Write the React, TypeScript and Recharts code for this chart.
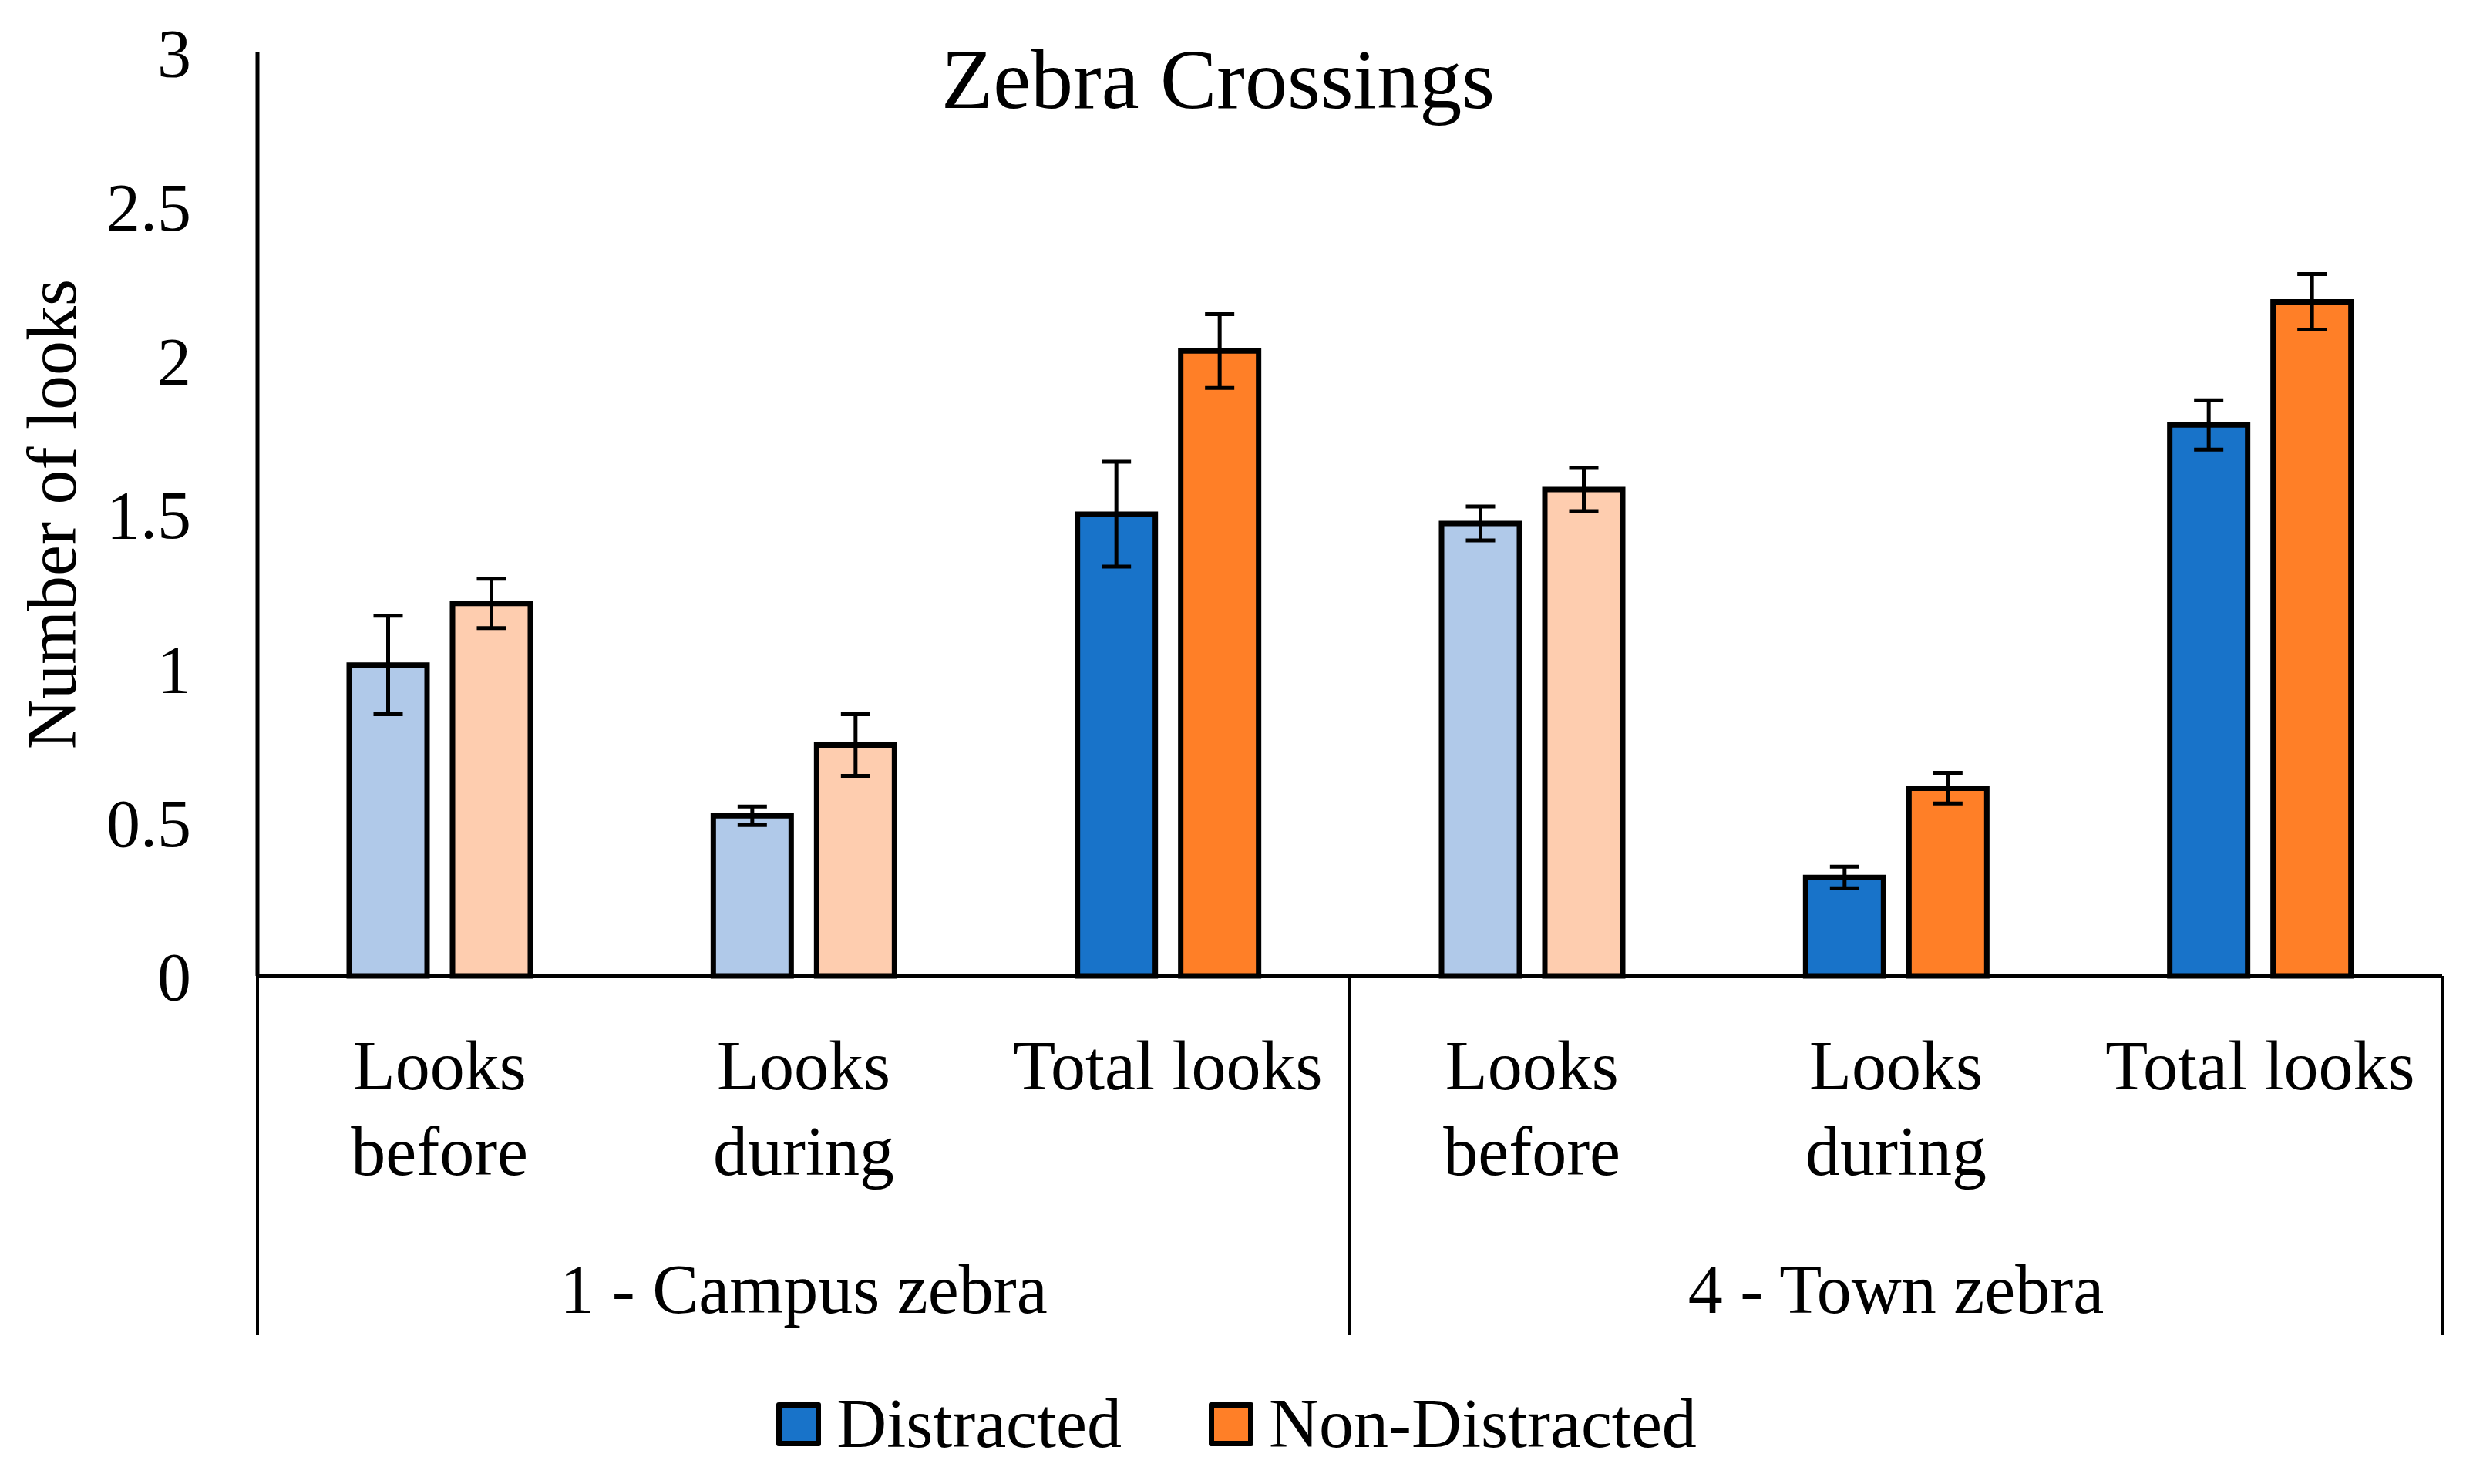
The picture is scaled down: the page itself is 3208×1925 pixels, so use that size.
import React from 'react';
import { BarChart, Bar, XAxis, YAxis, ErrorBar, Cell, Legend } from 'recharts';

const categories = ['Looks before', 'Looks during', 'Total looks', 'Looks before', 'Looks during', 'Total looks'];
const categoryLines = [['Looks', 'before'], ['Looks', 'during'], ['Total looks'], ['Looks', 'before'], ['Looks', 'during'], ['Total looks']];
const groups = ['1 - Campus zebra', '1 - Campus zebra', '1 - Campus zebra', '4 - Town zebra', '4 - Town zebra', '4 - Town zebra'];
const distracted = [1.01, 0.52, 1.5, 1.47, 0.32, 1.79];
const distractedErr = [0.16, 0.03, 0.17, 0.055, 0.035, 0.08];
const nonDistracted = [1.21, 0.75, 2.03, 1.58, 0.61, 2.19];
const nonDistractedErr = [0.08, 0.1, 0.12, 0.07, 0.05, 0.09];
const yTicks = [0, 0.5, 1, 1.5, 2, 2.5, 3];
const seriesNames = ['Distracted', 'Non-Distracted'];
const lightShade = [true, true, false, true, false, false];

const data = categories.map((c, i) => ({
  idx: i,
  category: c,
  group: groups[i],
  d: distracted[i],
  dErr: distractedErr[i],
  nd: nonDistracted[i],
  ndErr: nonDistractedErr[i],
}));

const FONT = '"Liberation Serif", "Times New Roman", serif';
const W = 3208;
const H = 1925;
const AXIS1_H = 330;
const AXIS2_H = 140;

const BLUE = '#1873C9';
const BLUE_LIGHT = '#B0C9E9';
const ORANGE = '#FF7F27';
const ORANGE_LIGHT = '#FECDAF';

const CategoryTick = (props: any) => {
  const { x, y, payload } = props;
  const lines = categoryLines[payload.value] || [String(payload.value)];
  return (
    <text x={x} y={y} textAnchor="middle" fontFamily={FONT} fontSize={90} fill="#000">
      {lines.map((l, i) => (
        <tspan key={i} x={x} dy={i === 0 ? 147 : 111}>
          {l}
        </tspan>
      ))}
    </text>
  );
};

const GroupTick = (props: any) => {
  const { x, y, payload } = props;
  const half = payload && typeof payload.offset === 'number' && payload.offset > 0 ? payload.offset : 708;
  return (
    <g>
      <line x1={x - half} x2={x - half} y1={y - AXIS1_H} y2={y + 136} stroke="#000" strokeWidth={4} />
      <line x1={x + half} x2={x + half} y1={y - AXIS1_H} y2={y + 136} stroke="#000" strokeWidth={4} />
      <text x={x} y={y + 107} textAnchor="middle" fontFamily={FONT} fontSize={90} fill="#000">
        {payload.value}
      </text>
    </g>
  );
};

const YLabel = (props: any) => {
  const vb = props.viewBox || { x: 0, y: 68, width: 334, height: 1198 };
  const cy = vb.y + vb.height / 2;
  const x = 98;
  return (
    <text
      x={x}
      y={cy}
      transform={`rotate(-90, ${x}, ${cy})`}
      textAnchor="middle"
      fontFamily={FONT}
      fontSize={90}
      fill="#000"
    >
      Number of looks
    </text>
  );
};

const LegendContent = () => (
  <div
    style={{
      width: W,
      height: 150,
      boxSizing: 'border-box',
      paddingTop: 72,
      display: 'flex',
      justifyContent: 'center',
      alignItems: 'center',
      fontFamily: FONT,
      fontSize: 90,
      lineHeight: '90px',
      color: '#000',
    }}
  >
    {[BLUE, ORANGE].map((c, i) => (
      <div key={i} style={{ display: 'flex', alignItems: 'center', marginLeft: i === 0 ? 0 : 113 }}>
        <div
          style={{
            width: 44,
            height: 43,
            background: c,
            border: '7px solid #000',
            borderRadius: 3,
            marginRight: 20,
          }}
        />
        <span>{seriesNames[i]}</span>
      </div>
    ))}
  </div>
);

export default function App() {
  return (
    <div style={{ position: 'absolute', left: 0, top: 0, width: W, height: H, background: '#fff' }}>
      <BarChart
        width={W}
        height={H}
        data={data}
        margin={{ top: 68, right: 40, left: 0, bottom: 39 }}
        barGap={33}
        barSize={101}
      >
        <XAxis
          dataKey="idx"
          height={AXIS1_H}
          interval={0}
          tickLine={false}
          tickSize={0}
          tickMargin={0}
          axisLine={{ stroke: '#000', strokeWidth: 5 }}
          tick={<CategoryTick />}
        />
        <XAxis
          xAxisId="group"
          dataKey="group"
          allowDuplicatedCategory={false}
          height={AXIS2_H}
          interval={0}
          tickLine={false}
          tickSize={0}
          tickMargin={0}
          axisLine={false}
          tick={<GroupTick />}
        />
        <YAxis
          type="number"
          width={334}
          domain={[0, 3]}
          ticks={yTicks}
          interval={0}
          tickLine={false}
          tickMargin={80}
          axisLine={{ stroke: '#000', strokeWidth: 5 }}
          tick={{ fontSize: 88, fill: '#000', fontFamily: FONT }}
          label={{ content: <YLabel /> }}
        />
        <Legend
          verticalAlign="bottom"
          height={150}
          wrapperStyle={{ left: 0, width: W }}
          content={() => <LegendContent />}
        />
        <Bar dataKey="d" name={seriesNames[0]} stroke="#000" strokeWidth={7} isAnimationActive={false}>
          {data.map((_, i) => (
            <Cell key={i} fill={lightShade[i] ? BLUE_LIGHT : BLUE} />
          ))}
          <ErrorBar dataKey="dErr" width={19} stroke="#000" strokeWidth={5} isAnimationActive={false} />
        </Bar>
        <Bar dataKey="nd" name={seriesNames[1]} stroke="#000" strokeWidth={7} isAnimationActive={false}>
          {data.map((_, i) => (
            <Cell key={i} fill={lightShade[i] ? ORANGE_LIGHT : ORANGE} />
          ))}
          <ErrorBar dataKey="ndErr" width={19} stroke="#000" strokeWidth={5} isAnimationActive={false} />
        </Bar>
      </BarChart>
      <svg
        width={W}
        height={200}
        style={{ position: 'absolute', left: 0, top: 0, pointerEvents: 'none' }}
      >
        <text x={1580} y={140} textAnchor="middle" fontFamily={FONT} fontSize={110} fill="#000">
          Zebra Crossings
        </text>
      </svg>
    </div>
  );
}
